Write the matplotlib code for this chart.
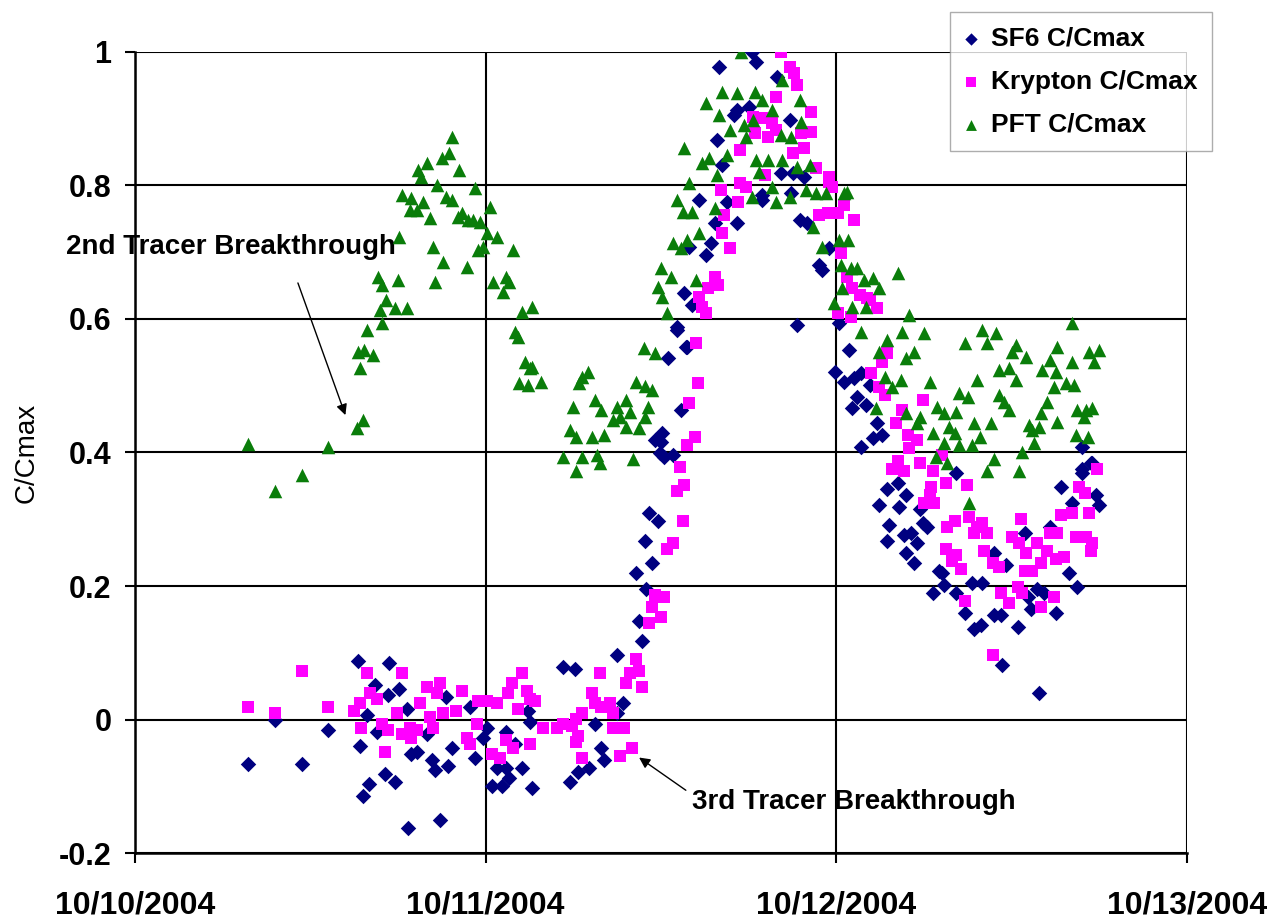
import numpy as np
import pandas as pd
import matplotlib
matplotlib.use('Agg')
import matplotlib.pyplot as plt
import matplotlib.dates as mdates

plt.rcParams['font.family'] = ['Liberation Sans', 'DejaVu Sans']

# hours after 10/10/2004 00:00 and C/Cmax values
sf6_h = [7.7, 9.6, 11.4, 13.2, 15.25, 15.4, 15.6, 16.0, 15.9, 16.4, 16.55, 17.1, 17.8, 17.4, 17.3,
         18.1, 18.6, 18.9, 19.3, 18.7, 20.3, 20.5, 20.0, 20.9, 21.3, 21.7, 21.4, 23.25, 23.8, 24.1,
         22.9, 24.4, 25.1, 25.6, 24.75, 25.4, 25.4, 26.0, 26.5, 27.2, 27.0, 26.9,
         29.3, 30.1, 29.75, 30.3, 31.1, 31.9, 32.1, 31.5, 33.0, 33.4, 33.0, 34.7, 34.5, 34.3, 34.9,
         35.4, 35.0, 35.2, 35.8, 35.9, 36.2, 36.0, 36.8, 35.6, 36.1, 37.4, 36.45, 37.7, 37.1,
         42.2, 42.5, 40.0, 43.97, 41.0, 41.2, 42.05, 44.8, 39.8, 40.2, 44.2, 45.0, 45.8, 42.9, 42.9,
         44.9, 38.6, 40.5, 39.7, 41.2, 45.5, 46.0, 39.45, 37.95, 39.1, 46.8, 47.05, 47.5, 37.6,
         38.15, 45.3, 37.1, 37.8, 48.2, 48.9,
         47.9, 48.55, 49.2, 49.7, 50.3, 49.4, 49.1, 50.05, 50.8, 51.15, 49.7, 50.5, 56.2, 64.8,
         64.8, 65.4, 51.5, 52.2, 52.8, 50.9, 52.3, 51.6, 51.5, 52.65, 53.1, 53.5, 52.8, 53.3, 53.9,
         54.2, 53.7, 55.05, 55.25, 54.6, 55.4, 56.2, 56.8, 57.4, 57.9, 57.3, 58.0, 58.8, 59.6, 58.8,
         59.3, 60.4, 59.35, 60.9, 61.1, 61.3, 61.75, 62.2, 61.9, 63.05, 62.6, 63.9, 64.5, 63.4,
         64.8, 65.5, 65.8, 66.0, 64.1]
sf6_v = [-.066, -.001, -.067, -.016, .088, -.039, -.114, -.096, .006, .051, -.019, -.081, -.094, .085, .036,
         .046, .016, -.051, -.049, -.163, -.061, -.076, -.021, -.15, .033, -.043, -.069, -.058, -.028, -.012,
         .018, -.099, -.099, -.087, -.072, -.072, -.019, -.036, -.072, -.102, -.004, .013,
         .078, .076, -.094, -.079, -.073, -.042, -.061, -.006, .009, .024, .096, .118, .148, .219, .268,
         .234, .196, .309, .298, .399, .393, .415, .396, .418, .429, .463, .541, .558, .583,
         1.0, .985, .978, .963, .906, .913, .918, .898, .868, .831, .819, .819, .813, .786, .778,
         .789, .778, .775, .744, .744, .748, .744, .714, .708, .696, .681, .673, .706, .639,
         .621, .591, .588, .558, .594, .553,
         .52, .505, .511, .519, .501, .483, .466, .471, .444, .426, .408, .421, .37, .408,
         .37, .384, .346, .354, .336, .321, .318, .291, .268, .276, .279, .264, .249, .234, .295,
         .288, .316, .223, .22, .189, .201, .189, .159, .136, .141, .204, .205, .249, .231, .156,
         .156, .138, .081, .279, .183, .166, .196, .19, .04, .16, .288, .219, .198, .348,
         .376, .385, .336, .321, .325]

kr_h = [7.7, 9.6, 11.4, 13.2, 15.0, 15.4, 15.5, 15.9, 16.1, 16.55, 16.9, 17.3, 17.1, 17.9, 18.3,
        18.3, 18.9, 19.3, 18.8, 19.5, 20.0, 20.9, 20.7, 20.2, 20.4, 21.1, 22.0, 22.4, 22.7, 22.9,
        23.4, 23.45, 24.1, 24.75, 24.4, 24.96, 25.4, 25.85, 25.5, 25.8, 26.5, 26.2, 26.8, 27.35,
        27.0, 27.9, 28.9, 27.0,
        29.3, 29.9, 30.2, 30.6, 30.3, 30.2, 30.6, 31.25, 31.8, 31.5, 31.9, 32.5, 32.7, 32.7, 33.5,
        33.2, 34.0, 33.85, 34.3, 34.5, 33.6, 34.7, 35.2, 35.35, 36.0, 35.6, 36.2, 36.4, 36.8, 37.5,
        37.1, 37.6, 37.3, 37.8, 38.3, 37.95, 38.5, 38.4,
        44.2, 44.8, 45.1, 45.3, 43.9, 46.3, 42.3, 42.9, 43.6, 42.4, 43.3, 43.9, 45.6, 46.3, 41.4,
        45.0, 45.8, 43.1, 46.6, 47.5, 40.1, 41.4, 41.85, 41.3, 47.7, 48.55, 46.8, 47.4, 48.1, 49.2,
        40.3, 40.2, 40.7, 48.35, 48.7, 49.1, 49.6, 50.1, 39.7, 39.9, 39.2, 38.6, 38.8, 39.1, 48.1,
        49.0, 47.5, 50.3, 50.8,
        51.5, 51.1, 50.4, 50.9, 51.3, 53.9, 52.5, 52.1, 52.9, 53.5, 53.0, 53.7, 52.2, 51.8, 52.65,
        54.6, 55.25, 65.85, 55.5, 54.5, 56.96, 54.4, 54.7, 54.0, 56.1, 55.6, 57.1, 57.6, 55.5, 56.2,
        56.55, 55.9, 57.4, 58.0, 58.3, 58.1, 58.7, 59.15, 59.3, 59.8, 60.0, 60.5, 60.65, 61.0, 60.9,
        60.4, 60.7, 61.4, 62.0, 61.75, 62.4, 62.6, 63.1, 63.05, 63.6, 62.9, 62.0, 56.8, 58.7, 63.4,
        64.1, 64.4, 65.1, 65.5, 65.4, 65.3, 64.6, 65.0]
kr_v = [.018, .01, .073, .018, .013, .025, -.012, .069, .039, .031, -.006, -.016, -.049, .009, .069,
        -.021, -.028, -.016, -.012, .024, .048, .055, .04, .003, -.012, .009, .013, .043, -.028, -.036,
        -.006, .028, .028, .024, -.051, -.057, -.031, -.042, .039, .054, .07, .016, .043, .028,
        -.036, -.012, -.012, .031,
        -.006, -.009, .001, .009, -.024, -.034, -.057, .04, .069, .024, .018, .024, .009, -.013, -.013,
        -.054, -.043, .069, .091, .073, .054, .048, .144, .168, .153, .186, .183, .256, .265, .298,
        .343, .351, .378, .411, .423, .474, .504, .564,
        1.0, .978, .969, .951, .933, .91, .903, .901, .894, .879, .873, .883, .879, .88, .853,
        .849, .856, .816, .826, .813, .793, .804, .798, .775, .798, .771, .756, .759, .759, .748,
        .756, .729, .706, .699, .663, .646, .636, .631, .663, .651, .646, .633, .618, .609, .609,
        .603, .805, .628, .616,
        .549, .535, .519, .498, .486, .478, .463, .444, .426, .418, .406, .385, .388, .376, .373,
        .373, .396, .376, .355, .348, .351, .336, .325, .324, .298, .288, .303, .288, .256, .246,
        .226, .238, .28, .294, .28, .253, .235, .228, .189, .174, .273, .264, .301, .249, .223,
        .198, .189, .223, .235, .264, .253, .279, .28, .241, .243, .183, .168, .178, .096, .306,
        .309, .273, .273, .264, .253, .309, .348, .34]

pft_h = [7.7, 9.6, 11.4, 13.2, 15.2, 15.6, 15.4, 15.25, 15.7, 16.3, 15.9, 16.9, 16.75, 17.2, 17.8,
         18.6, 16.6, 16.9, 18.0, 20.5, 18.1, 18.3, 18.9, 19.3, 19.7, 18.8, 19.35, 20.0, 19.6, 20.2,
         20.4, 21.1, 21.0, 21.5, 21.7, 22.2, 20.7, 21.3, 21.7, 22.1, 22.4, 22.8, 23.1, 23.6, 22.7,
         23.25, 23.45, 23.8, 24.3, 24.1, 24.8, 25.85, 24.5, 25.4, 25.6, 25.2, 26.5, 27.2, 26.0, 26.2,
         26.7, 27.15, 26.3, 26.9, 27.8, 27.0,
         34.87, 35.56, 30.6, 31.0, 30.4, 34.3, 34.9, 35.4, 29.95, 31.5, 31.9, 33.0, 33.6, 33.2, 33.85,
         32.7, 35.1, 34.9, 29.75, 30.2, 31.25, 32.1, 33.6, 34.5, 29.3, 30.6, 31.6, 30.2, 31.8, 34.05,
         41.5, 40.2, 41.2, 42.4, 39.1, 40.0, 42.9, 43.6, 45.5, 44.3, 40.7, 41.7, 41.85, 42.3, 45.6,
         44.2, 44.9, 37.6, 38.8, 39.3, 40.5, 42.5, 43.3, 44.3, 42.7, 45.3, 46.2, 39.8, 37.95, 43.6,
         42.2, 43.9, 44.8, 45.95, 46.6, 47.3, 48.7, 37.1, 37.5, 38.15, 39.7, 46.4, 36.8, 37.4, 37.8,
         38.6, 48.2, 48.8, 47.0, 36.0, 36.7, 38.4, 48.35, 49.0, 49.4, 35.8, 36.1, 48.4, 49.9, 50.5,
         36.4, 47.86, 49.1, 50.05, 49.7,
         48.55, 52.2, 50.9, 53.0, 52.5, 54.0, 58.0, 58.9, 58.3, 64.1, 56.8, 51.5, 50.9, 53.3, 52.8,
         60.3, 60.0, 61.0, 63.1, 65.3, 66.0, 65.65, 62.6, 64.1, 59.15, 59.8, 62.1, 63.05, 57.6, 60.3,
         51.3, 52.45, 54.4, 62.9, 63.7, 64.3, 51.8, 56.4, 57.0, 59.15, 59.5, 62.4, 50.7, 54.9, 55.4,
         56.2, 59.8, 64.5, 65.1, 65.5, 52.8, 53.7, 62.0, 61.2, 57.4, 58.6, 63.1, 64.96, 53.5, 55.7,
         61.4, 61.9, 54.6, 56.1, 57.8, 55.4, 56.4, 57.3, 61.5, 64.4, 65.2, 60.7, 58.8, 58.3, 60.5,
         54.8, 55.6, 57.1]
pft_v = [.412, .343, .367, .408, .436, .448, .526, .55, .553, .546, .583, .594, .613, .628, .616,
         .616, .663, .651, .658, .655, .723, .786, .781, .763, .775, .763, .823, .834, .813, .751,
         .708, .685, .841, .849, .873, .823, .801, .783, .778, .753, .759, .748, .748, .745, .678,
         .796, .703, .708, .768, .729, .723, .703, .655, .663, .655, .64, .61, .618, .58, .573,
         .535, .528, .504, .501, .505, .526,
         .556, .549, .513, .52, .504, .505, .50, .493, .468, .478, .463, .468, .478, .453, .46,
         .448, .468, .453, .433, .423, .423, .426, .438, .436, .393, .393, .396, .373, .384, .391,
         1.0, .94, .938, .94, .924, .906, .928, .913, .928, .958, .883, .891, .873, .898, .895,
         .876, .873, .856, .834, .841, .846, .838, .838, .838, .82, .828, .831, .816, .804, .798,
         .783, .775, .783, .793, .789, .789, .79, .778, .76, .76, .766, .738, .714, .706, .718,
         .729, .718, .718, .708, .676, .663, .658, .681, .676, .676, .648, .633, .646, .658, .661,
         .609, .624, .618, .618, .58,
         .789, .669, .646, .606, .58, .579, .583, .579, .564, .594, .564, .568, .55, .55, .541,
         .561, .55, .543, .558, .55, .553, .535, .538, .535, .523, .526, .523, .52, .508, .508,
         .513, .508, .505, .498, .504, .501, .498, .489, .483, .486, .475, .475, .466, .468, .459,
         .46, .463, .463, .463, .466, .459, .453, .459, .441, .444, .444, .445, .453, .444, .438,
         .433, .438, .429, .429, .423, .414, .411, .411, .414, .426, .423, .40, .391, .373, .373,
         .393, .384, .325]

start = pd.Timestamp('2004-10-10')
def to_time(hours):
    return start + pd.to_timedelta(np.array(hours), unit='h')

def at(h):
    return start + pd.Timedelta(hours=h)

fig = plt.figure(figsize=(12.7, 9.22), dpi=100)
ax = fig.add_axes([135/1270, 1-853/922, (1187-135)/1270, (853-52)/922])

ax.scatter(to_time(sf6_h), sf6_v, marker='D', s=62, color='#000080', linewidths=0,
           label='SF6 C/Cmax', zorder=3)
ax.scatter(to_time(kr_h), kr_v, marker='s', s=85, color='#FF00FF', linewidths=0,
           label='Krypton C/Cmax', zorder=4)
ax.scatter(to_time(pft_h), pft_v, marker='^', s=95, color='#0A7D0A', linewidths=0,
           label='PFT C/Cmax', zorder=5)

ax.set_xlim(start, start + pd.Timedelta(days=3))
ax.set_ylim(-0.2, 1.0)
ax.set_yticks([-0.2, 0, 0.2, 0.4, 0.6, 0.8, 1])
ax.set_yticklabels(['-0.2', '0', '0.2', '0.4', '0.6', '0.8', '1'])
ax.xaxis.set_major_locator(mdates.DayLocator())
ax.xaxis.set_major_formatter(mdates.DateFormatter('%m/%d/%Y'))

ax.grid(True, color='black', linewidth=1.5, zorder=1)
ax.set_axisbelow(True)
ax.spines['top'].set_visible(False)
ax.spines['right'].set_visible(False)
ax.spines['left'].set_linewidth(1.8)
ax.spines['bottom'].set_linewidth(1.8)
ax.spines['left'].set_zorder(6)
ax.tick_params(axis='both', direction='out', length=7, width=1.5)
ax.tick_params(axis='y', labelsize=22, pad=10)
ax.tick_params(axis='x', labelsize=23, pad=20)
for lab in ax.get_xticklabels() + ax.get_yticklabels():
    lab.set_fontweight('bold')

ax.set_ylabel('C/Cmax', fontsize=20, labelpad=14)

# annotations
ax.text(at(6.6), 0.708, '2nd Tracer Breakthrough', fontsize=20, fontweight='bold',
        ha='center', va='center', clip_on=False, zorder=2)
ax.annotate('', xy=(at(14.4), 0.456), xytext=(at(11.15), 0.654),
            arrowprops=dict(arrowstyle='-|>', color='black', lw=1, mutation_scale=16,
                            shrinkA=0, shrinkB=0), zorder=2)
ax.text(at(49.2), -0.124, '3rd Tracer Breakthrough', fontsize=20, fontweight='bold',
        ha='center', va='center', zorder=2)
ax.annotate('', xy=(at(34.5), -0.057), xytext=(at(37.7), -0.106),
            arrowprops=dict(arrowstyle='-|>', color='black', lw=1, mutation_scale=16,
                            shrinkA=0, shrinkB=0), zorder=2)

leg = ax.legend(loc='upper right', bbox_to_anchor=(1212/1270, 1-12/922),
                bbox_transform=fig.transFigure, frameon=True, fancybox=False,
                prop={'weight': 'bold', 'size': 19}, handlelength=0.5,
                handletextpad=0.5, labelspacing=0.72, borderpad=0.55, borderaxespad=0,
                scatterpoints=1, markerscale=0.8)
leg.get_frame().set_edgecolor('#999999')
leg.get_frame().set_linewidth(1)
leg.set_zorder(10)

fig.savefig('out.png', dpi=100)
